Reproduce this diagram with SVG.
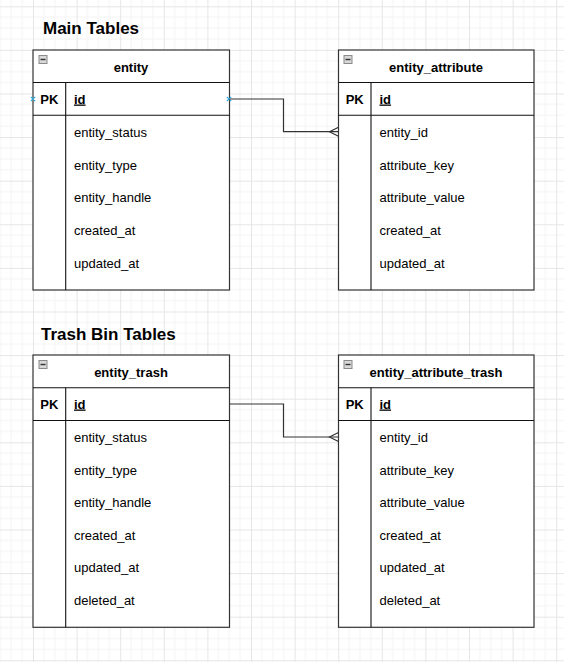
<svg xmlns="http://www.w3.org/2000/svg" width="564" height="662" viewBox="0 0 564 662">
<style>
.title{font-family:"Liberation Sans",Arial,sans-serif;font-weight:bold;font-size:17px;fill:#000}
.hdr{font-family:"Liberation Sans",Arial,sans-serif;font-weight:bold;font-size:13px;fill:#000;text-anchor:middle}
.pk{font-family:"Liberation Sans",Arial,sans-serif;font-weight:bold;font-size:13px;fill:#000;text-anchor:middle}
.key{font-family:"Liberation Sans",Arial,sans-serif;font-weight:bold;font-size:13px;fill:#000;text-decoration:underline}
.fld{font-family:"Liberation Sans",Arial,sans-serif;font-size:13px;fill:#000}
.box{fill:#fff;stroke:#333;stroke-width:1.2}
.ln{stroke:#111;stroke-width:1.1;fill:none}
.conn{stroke:#333;stroke-width:1.2;fill:none}
.mark{stroke:#29a8e0;stroke-width:1.2}
</style>
<defs>
<pattern id="grid" patternUnits="userSpaceOnUse" x="33" y="6.3" width="43.6" height="43.6">
<path d="M10.9 0V43.6M21.8 0V43.6M32.7 0V43.6M0 10.9H43.6M0 21.8H43.6M0 32.7H43.6" stroke="#f4f4f4" stroke-width="1" fill="none"/>
<path d="M0.5 0V43.6M0 0.5H43.6" stroke="#e6e6e6" stroke-width="1" fill="none"/>
</pattern>
<g id="icon">
<rect x="0.5" y="0.5" width="8" height="8" fill="#d8d8d8" stroke="#8a8a8a" stroke-width="1"/>
<line x1="2" y1="4.5" x2="7" y2="4.5" stroke="#333" stroke-width="1.4"/>
</g>
</defs>
<rect width="564" height="662" fill="#fff"/>
<rect width="564" height="662" fill="url(#grid)"/>

<text class="title" x="43" y="34">Main Tables</text>
<text class="title" x="41" y="340">Trash Bin Tables</text>

<g id="connectors">
<polyline class="conn" points="229,99 283.5,99 283.5,131.7 338.5,131.7"/>
<path class="conn" d="M338.5 127.2 L329.5 131.7 L338.5 136.2"/>
<polyline class="conn" points="229,404 283.5,404 283.5,437 338.5,437"/>
<path class="conn" d="M338.5 432.5 L329.5 437 L338.5 441.5"/>
</g>

<g id="entity">
<rect class="box" x="33" y="50" width="196.5" height="240"/>
<line class="ln" x1="33" y1="82.5" x2="229.5" y2="82.5"/>
<line class="ln" x1="33" y1="115.2" x2="229.5" y2="115.2"/>
<line class="ln" x1="65.7" y1="82.5" x2="65.7" y2="290"/>
<use href="#icon" x="38.5" y="55"/>
<text class="hdr" x="131" y="71.5">entity</text>
<text class="pk" x="49.3" y="103.5">PK</text>
<text class="key" x="74" y="103.5">id</text>
<text class="fld" x="74" y="137">entity_status</text>
<text class="fld" x="74" y="169.5">entity_type</text>
<text class="fld" x="74" y="202.2">entity_handle</text>
<text class="fld" x="74" y="234.8">created_at</text>
<text class="fld" x="74" y="267.5">updated_at</text>
<path class="mark" d="M30.8 96.8L35.2 101.2M35.2 96.8L30.8 101.2M226.8 96.8L231.2 101.2M231.2 96.8L226.8 101.2"/>
</g>

<g id="entity_attribute">
<rect class="box" x="338.5" y="50" width="195.5" height="240"/>
<line class="ln" x1="338.5" y1="82.5" x2="534" y2="82.5"/>
<line class="ln" x1="338.5" y1="115.2" x2="534" y2="115.2"/>
<line class="ln" x1="371" y1="82.5" x2="371" y2="290"/>
<use href="#icon" x="343.5" y="55"/>
<text class="hdr" x="436" y="71.5">entity_attribute</text>
<text class="pk" x="354.7" y="103.5">PK</text>
<text class="key" x="379.5" y="103.5">id</text>
<text class="fld" x="379.5" y="137">entity_id</text>
<text class="fld" x="379.5" y="169.5">attribute_key</text>
<text class="fld" x="379.5" y="202.2">attribute_value</text>
<text class="fld" x="379.5" y="234.8">created_at</text>
<text class="fld" x="379.5" y="267.5">updated_at</text>
</g>

<g id="entity_trash">
<rect class="box" x="33" y="355" width="196.5" height="272.3"/>
<line class="ln" x1="33" y1="387.7" x2="229.5" y2="387.7"/>
<line class="ln" x1="33" y1="420.5" x2="229.5" y2="420.5"/>
<line class="ln" x1="65.7" y1="387.7" x2="65.7" y2="627.3"/>
<use href="#icon" x="38.5" y="360"/>
<text class="hdr" x="131" y="376.5">entity_trash</text>
<text class="pk" x="49.3" y="408.5">PK</text>
<text class="key" x="74" y="408.5">id</text>
<text class="fld" x="74" y="442">entity_status</text>
<text class="fld" x="74" y="474.6">entity_type</text>
<text class="fld" x="74" y="507.2">entity_handle</text>
<text class="fld" x="74" y="539.8">created_at</text>
<text class="fld" x="74" y="572.4">updated_at</text>
<text class="fld" x="74" y="605">deleted_at</text>
</g>

<g id="entity_attribute_trash">
<rect class="box" x="338.5" y="355" width="195.5" height="272.3"/>
<line class="ln" x1="338.5" y1="387.7" x2="534" y2="387.7"/>
<line class="ln" x1="338.5" y1="420.5" x2="534" y2="420.5"/>
<line class="ln" x1="371" y1="387.7" x2="371" y2="627.3"/>
<use href="#icon" x="343.5" y="360"/>
<text class="hdr" x="436" y="376.5">entity_attribute_trash</text>
<text class="pk" x="354.7" y="408.5">PK</text>
<text class="key" x="379.5" y="408.5">id</text>
<text class="fld" x="379.5" y="442">entity_id</text>
<text class="fld" x="379.5" y="474.6">attribute_key</text>
<text class="fld" x="379.5" y="507.2">attribute_value</text>
<text class="fld" x="379.5" y="539.8">created_at</text>
<text class="fld" x="379.5" y="572.4">updated_at</text>
<text class="fld" x="379.5" y="605">deleted_at</text>
</g>
</svg>
